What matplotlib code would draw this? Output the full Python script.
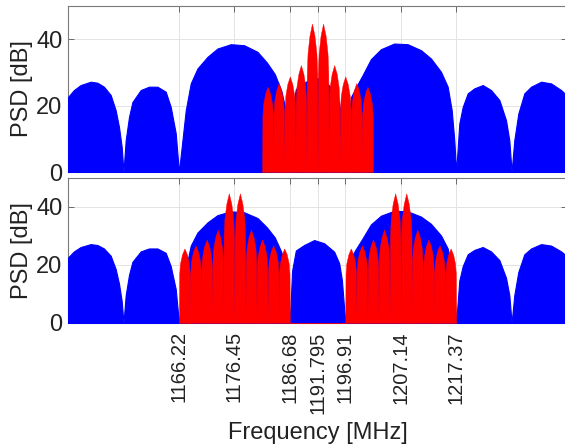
import numpy as np
import matplotlib
matplotlib.use("Agg")
import matplotlib.pyplot as plt

plt.rcParams['font.family'] = ['Liberation Sans', 'DejaVu Sans']

# blue PSD envelope (MHz, dB)
blue_freq = [1145.76, 1146.85, 1148.09, 1149.93, 1151.17, 1152.39, 1153.63, 1154.55, 1155.16, 1155.66, 1155.99,
             1156.40, 1157.01, 1157.64, 1159.17, 1160.70, 1162.25, 1163.78, 1164.71, 1165.63, 1166.22,
             1166.87, 1167.48, 1168.40, 1169.64, 1171.49, 1173.33, 1175.79, 1178.24, 1180.72, 1182.44,
             1183.91, 1185.11, 1185.95, 1186.31, 1186.68,
             1187.10, 1187.79, 1189.32, 1191.17, 1193.02, 1194.86, 1195.79, 1196.29, 1196.91,
             1197.64, 1197.95, 1198.87, 1200.11, 1201.64, 1203.49, 1205.94, 1208.42, 1210.88, 1212.72,
             1214.57, 1215.81, 1216.55, 1217.03, 1217.37,
             1217.95, 1218.58, 1219.50, 1220.72, 1222.27, 1223.80, 1225.34, 1226.57, 1227.18, 1227.60,
             1228.10, 1228.84, 1229.95, 1231.19, 1233.04, 1234.88, 1236.73, 1237.83]
blue_db = [22.6, 24.7, 26.2, 27.2, 26.9, 25.7, 23.2, 18.6, 13.6, 7.6, 0,
           9.6, 16.6, 21.1, 24.7, 25.7, 25.7, 24.2, 19.6, 11.7, 0,
           9.6, 18.6, 26.7, 31.2, 34.7, 37.2, 38.5, 38.2, 36.2, 33.0,
           29.5, 24.5, 18.5, 11.0, 0,
           18.0, 25.0, 26.9, 28.6, 27.5, 24.6, 20.6, 14.8, 0,
           18.1, 22.5, 25.5, 29.2, 34.0, 37.0, 38.7, 38.5, 36.7, 34.2,
           30.2, 25.7, 18.6, 9.6, 0,
           14.6, 19.6, 23.7, 25.2, 26.2, 24.7, 21.7, 15.6, 9.6, 0,
           9.6, 17.6, 23.7, 25.7, 27.2, 26.7, 24.7, 23.0]

# red lobes: centre offsets from group centre (MHz) and peak levels (dB)
red_offsets = [-9.207, -7.161, -5.115, -3.069, -1.023, 1.023, 3.069, 5.115, 7.161, 9.207]
red_peaks = [25.7, 26.8, 28.8, 32.2, 44.7, 44.7, 32.2, 28.8, 26.8, 25.7]
red_halfwidth = 1.023
# lobe outline (fraction of half width, fraction of peak)
lobe_pos = [-1.0, -0.94, -0.8, -0.45, 0.0, 0.45, 0.8, 0.94, 1.0]
lobe_level = [0.0, 0.66, 0.8, 0.92, 1.0, 0.92, 0.8, 0.66, 0.0]

top_centres = [1191.795]
bottom_centres = [1176.45, 1207.14]

xticks = [1166.22, 1176.45, 1186.68, 1191.795, 1196.91, 1207.14, 1217.37]
xticklabels = ['1166.22', '1176.45', '1186.68', '1191.795', '1196.91', '1207.14', '1217.37']


def red_curve(centres):
    f, v = [], []
    for c in centres:
        for off, pk in zip(red_offsets, red_peaks):
            for p, l in zip(lobe_pos, lobe_level):
                f.append(c + off + p * red_halfwidth)
                v.append(pk * l)
    return np.array(f), np.array(v)


fig = plt.figure(figsize=(5.65, 4.46), dpi=100)
ax1 = fig.add_axes([0.1204, 0.6143, 0.8832, 0.3722])
ax2 = fig.add_axes([0.1204, 0.2758, 0.8832, 0.3251])

for ax, centres in [(ax1, top_centres), (ax2, bottom_centres)]:
    ax.fill_between(blue_freq, 0, blue_db, color='#0000ff', lw=0.8, zorder=3)
    rf, rv = red_curve(centres)
    ax.fill_between(rf, 0, rv, color='#ff0000', lw=0.3, zorder=4)
    ax.set_xlim(1145.76, 1237.83)
    ax.set_ylim(0, 50)
    ax.set_xticks(xticks)
    ax.set_yticks([0, 20, 40])
    ax.grid(True, color='#e3e3e3', lw=0.7)
    ax.set_axisbelow(True)
    ax.tick_params(direction='in', length=4, width=0.6, color='#555555',
                   top=True, right=True, labelsize=17, pad=4, labelcolor='#222222')
    ax.tick_params(axis='x', labelsize=14.5, pad=6)
    for s in ax.spines.values():
        s.set_color('#7a7a7a')
        s.set_linewidth(0.8)
    ax.set_ylabel('PSD [dB]', fontsize=17, labelpad=2, color='#222222')

ax1.set_xticklabels([])
ax2.set_xticklabels(xticklabels, rotation=90)
ax2.set_xlabel('Frequency [MHz]', fontsize=17, labelpad=6, color='#222222')

fig.savefig('out.png', dpi=100)
